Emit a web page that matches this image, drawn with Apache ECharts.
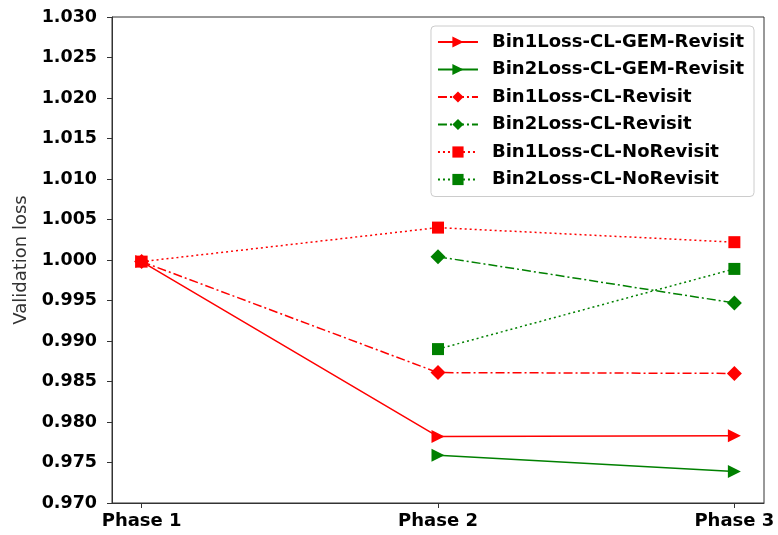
<!DOCTYPE html>
<html>
<head>
<meta charset="utf-8">
<script src="https://cdn.jsdelivr.net/npm/echarts@6/dist/echarts.min.js"></script>
<style>
html,body{margin:0;padding:0;background:#fff;}
#main{width:778px;height:535px;}
</style>
</head>
<body>
<div id="main"></div>
<script>
// phases on the x axis
var phases = ['Phase 1', 'Phase 2', 'Phase 3'];
var yTicks = [0.970, 1.030, 0.005]; // min, max, step

// validation loss per phase (null = not drawn)
var bin1GemRevisit = [0.9998, 0.9782, 0.9783];
var bin2GemRevisit = [null, 0.9759, 0.9739];
var bin1Revisit = [0.9998, 0.9861, 0.9860];
var bin2Revisit = [null, 1.0004, 0.9947];
var bin1NoRevisit = [0.9998, 1.0040, 1.0022];
var bin2NoRevisit = [null, 0.9890, 0.9989];

var RED = '#ff0000', GREEN = '#008000';
var DASHDOT = [9, 3, 2, 3], DOTTED = [2, 3];
var FONT = 'DejaVu Sans';

/*把数组变成[x,y]点*/
var toPoints = function (arr) {
    var pts = [];
    for (var i = 0; i < arr.length; i++) {
        if (arr[i] !== null) pts.push([i, arr[i]]);
    }
    return pts;
};

var mkSeries = function (name, arr, color, dash, symbol, size, rotate) {
    return {
        name: name,
        type: 'line',
        data: toPoints(arr),
        symbol: symbol,
        symbolSize: size,
        symbolRotate: rotate || 0,
        showAllSymbol: true,
        itemStyle: {color: color},
        lineStyle: {color: color, width: 1.5, type: dash},
        emphasis: {disabled: true},
        animation: false
    };
};

var chart = echarts.init(document.getElementById('main'));
var option = {
    backgroundColor: '#fff',
    animation: false,
    grid: {
        left: 112, right: 14, top: 17, bottom: 32,
        show: true, borderColor: '#333', borderWidth: 1
    },
    legend: {
        orient: 'vertical',
        right: 24, top: 26,
        itemWidth: 40, itemHeight: 14, itemGap: 9.5,
        padding: [7, 10, 8, 6],
        borderColor: '#ccc', borderWidth: 1, borderRadius: 4,
        textStyle: {fontFamily: FONT, fontWeight: 'bold', fontSize: 18, color: '#000', padding: [0, 0, 0, 9]},
        data: ['Bin1Loss-CL-GEM-Revisit', 'Bin2Loss-CL-GEM-Revisit', 'Bin1Loss-CL-Revisit',
            'Bin2Loss-CL-Revisit', 'Bin1Loss-CL-NoRevisit', 'Bin2Loss-CL-NoRevisit']
    },
    xAxis: {
        type: 'value',
        min: -0.1, max: 2.1,
        splitLine: {show: false},
        axisLine: {onZero: false, lineStyle: {color: '#333'}},
        axisTick: {show: true, customValues: [0, 1, 2], length: 5, lineStyle: {color: '#333'}},
        axisLabel: {
            customValues: [0, 1, 2],
            margin: 9,
            fontFamily: FONT, fontWeight: 'bold', fontSize: 18, color: '#000',
            formatter: function (v) { return phases[Math.round(v)]; }
        }
    },
    yAxis: {
        type: 'value',
        min: yTicks[0], max: yTicks[1], interval: yTicks[2],
        name: 'Validation loss',
        nameLocation: 'middle',
        nameGap: 80,
        nameTextStyle: {fontFamily: FONT, fontSize: 18, color: '#333'},
        splitLine: {show: false},
        axisLine: {show: true, onZero: false, lineStyle: {color: '#333'}},
        axisTick: {show: true, length: 5, lineStyle: {color: '#333'}},
        axisLabel: {
            margin: 15,
            fontFamily: FONT, fontWeight: 'bold', fontSize: 17.5, color: '#000',
            formatter: function (v) { return v.toFixed(3); }
        }
    },
    series: [
        mkSeries('Bin1Loss-CL-GEM-Revisit', bin1GemRevisit, RED, 'solid', 'triangle', 13, -90),
        mkSeries('Bin2Loss-CL-GEM-Revisit', bin2GemRevisit, GREEN, 'solid', 'triangle', 13, -90),
        mkSeries('Bin1Loss-CL-Revisit', bin1Revisit, RED, DASHDOT, 'diamond', 15),
        mkSeries('Bin2Loss-CL-Revisit', bin2Revisit, GREEN, DASHDOT, 'diamond', 15),
        mkSeries('Bin1Loss-CL-NoRevisit', bin1NoRevisit, RED, DOTTED, 'rect', 12),
        mkSeries('Bin2Loss-CL-NoRevisit', bin2NoRevisit, GREEN, DOTTED, 'rect', 12)
    ]
};
chart.setOption(option);
</script>
</body>
</html>
